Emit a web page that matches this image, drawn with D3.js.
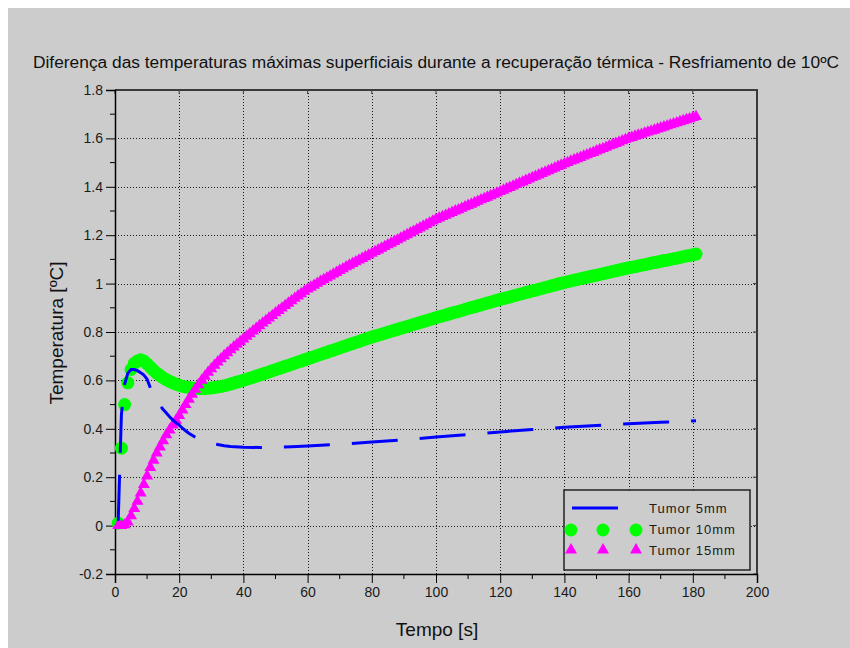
<!DOCTYPE html>
<html>
<head>
<meta charset="utf-8">
<script src="https://cdn.jsdelivr.net/npm/d3@7"></script>
<style>
  html, body { margin: 0; padding: 0; background: #ffffff; }
  svg { display: block; }
  text { font-family: "Liberation Sans", Arial, sans-serif; }
</style>
</head>
<body>
<svg id="chart" width="850" height="648"></svg>
<script>
// ---- data -------------------------------------------------------------
const chartTitle = "Diferença das temperaturas máximas superficiais durante a recuperação térmica - Resfriamento de 10ºC";
const xLabel = "Tempo [s]";
const yLabel = "Temperatura [ºC]";

const xTicks = [0, 20, 40, 60, 80, 100, 120, 140, 160, 180, 200];
const yTicks = [-0.2, 0, 0.2, 0.4, 0.6, 0.8, 1, 1.2, 1.4, 1.6, 1.8];
const yTickLabels = ["-0.2", "0", "0.2", "0.4", "0.6", "0.8", "1", "1.2", "1.4", "1.6", "1.8"];

const seriesNames = ["Tumor 5mm", "Tumor 10mm", "Tumor 15mm"];

// Tumor 5mm (line)
const time5 = [1, 2, 3, 4, 5, 6, 7, 8, 9, 10, 11, 12, 13, 14, 15, 16, 17, 18, 19, 20,
  21, 22, 23, 24, 25, 26, 28, 30, 32, 34, 36, 40, 45, 50, 55, 60, 70, 80, 90, 100,
  110, 120, 130, 140, 150, 160, 170, 181];
const temp5 = [0.02, 0.46, 0.585, 0.63, 0.645, 0.645, 0.64, 0.632, 0.622, 0.605, 0.57, 0.535,
  0.515, 0.497, 0.48, 0.465, 0.45, 0.437, 0.425, 0.415, 0.403, 0.392, 0.382, 0.373, 0.366,
  0.36, 0.35, 0.342, 0.335, 0.33, 0.327, 0.324, 0.323, 0.324, 0.326, 0.329, 0.336, 0.345,
  0.355, 0.366, 0.376, 0.387, 0.397, 0.406, 0.414, 0.421, 0.427, 0.433];

// Tumor 10mm and 15mm: one sample per second, t = 1 .. 181
const timeSec = d3.range(1, 182);
const temp10 = [
  0.01, 0.32, 0.50, 0.59, 0.645, 0.67, 0.68, 0.685, 0.68, 0.668,
  0.655, 0.642, 0.63, 0.62, 0.611, 0.603, 0.596, 0.59, 0.585, 0.58,
  0.576, 0.573, 0.571, 0.569, 0.568, 0.567, 0.567, 0.567, 0.568, 0.569,
  0.571, 0.573, 0.575, 0.578, 0.581, 0.585, 0.589, 0.593, 0.597, 0.601,
  0.605, 0.609, 0.613, 0.618, 0.622, 0.626, 0.631, 0.635, 0.640, 0.644,
  0.649, 0.653, 0.658, 0.662, 0.667, 0.671, 0.676, 0.680, 0.685, 0.689,
  0.694, 0.698, 0.703, 0.707, 0.712, 0.716, 0.721, 0.725, 0.730, 0.734,
  0.739, 0.743, 0.748, 0.752, 0.757, 0.761, 0.766, 0.770, 0.775, 0.779,
  0.783, 0.787, 0.791, 0.795, 0.799, 0.803, 0.807, 0.811, 0.815, 0.819,
  0.823, 0.827, 0.831, 0.835, 0.839, 0.843, 0.847, 0.851, 0.855, 0.859,
  0.863, 0.866, 0.870, 0.874, 0.878, 0.882, 0.885, 0.889, 0.893, 0.897,
  0.901, 0.904, 0.908, 0.912, 0.916, 0.920, 0.923, 0.927, 0.931, 0.935,
  0.938, 0.942, 0.945, 0.949, 0.952, 0.956, 0.959, 0.963, 0.966, 0.970,
  0.973, 0.977, 0.980, 0.984, 0.987, 0.991, 0.994, 0.998, 1.001, 1.005,
  1.008, 1.011, 1.014, 1.017, 1.020, 1.023, 1.026, 1.029, 1.032, 1.035,
  1.038, 1.041, 1.044, 1.047, 1.050, 1.053, 1.056, 1.059, 1.062, 1.065,
  1.068, 1.070, 1.073, 1.076, 1.078, 1.081, 1.084, 1.087, 1.089, 1.092,
  1.095, 1.097, 1.100, 1.103, 1.105, 1.108, 1.111, 1.114, 1.116, 1.119,
  1.122];
const temp15 = [
  0, 0, 0.003, 0.015, 0.04, 0.07, 0.10, 0.135, 0.17, 0.205,
  0.24, 0.27, 0.30, 0.325, 0.35, 0.375, 0.395, 0.415, 0.435, 0.455,
  0.478, 0.50, 0.522, 0.543, 0.563, 0.582, 0.60, 0.617, 0.633, 0.648,
  0.662, 0.676, 0.689, 0.702, 0.714, 0.726, 0.738, 0.749, 0.76, 0.771,
  0.782, 0.793, 0.804, 0.815, 0.826, 0.837, 0.847, 0.858, 0.868, 0.879,
  0.889, 0.899, 0.909, 0.919, 0.929, 0.939, 0.949, 0.958, 0.968, 0.977,
  0.985, 0.993, 1.001, 1.009, 1.016, 1.024, 1.031, 1.039, 1.046, 1.054,
  1.061, 1.069, 1.076, 1.083, 1.090, 1.097, 1.104, 1.111, 1.118, 1.125,
  1.132, 1.139, 1.146, 1.153, 1.160, 1.167, 1.174, 1.181, 1.188, 1.195,
  1.202, 1.209, 1.216, 1.223, 1.230, 1.237, 1.244, 1.251, 1.258, 1.265,
  1.271, 1.277, 1.282, 1.288, 1.294, 1.300, 1.305, 1.311, 1.317, 1.323,
  1.328, 1.334, 1.340, 1.346, 1.351, 1.357, 1.363, 1.369, 1.374, 1.380,
  1.386, 1.392, 1.397, 1.403, 1.409, 1.415, 1.420, 1.426, 1.432, 1.438,
  1.443, 1.449, 1.455, 1.461, 1.466, 1.472, 1.478, 1.484, 1.489, 1.495,
  1.500, 1.506, 1.511, 1.516, 1.521, 1.527, 1.532, 1.537, 1.542, 1.548,
  1.553, 1.558, 1.563, 1.569, 1.574, 1.579, 1.584, 1.590, 1.595, 1.600,
  1.604, 1.609, 1.613, 1.617, 1.622, 1.626, 1.630, 1.634, 1.639, 1.643,
  1.647, 1.652, 1.656, 1.660, 1.664, 1.669, 1.673, 1.677, 1.681, 1.686,
  1.690];

// ---- layout -----------------------------------------------------------
const W = 850, H = 648;
const plot = { left: 115, right: 757, top: 90, bottom: 574 };
const colors = { c5: "#0000ff", c10: "#00ff00", c15: "#ff00ff" };

const svg = d3.select("#chart");

// figure background (white strip on top/left, grey canvas)
svg.append("rect").attr("x", 0).attr("y", 0).attr("width", W).attr("height", H).attr("fill", "#ffffff");
svg.append("rect").attr("x", 8).attr("y", 8).attr("width", W - 8).attr("height", H - 8).attr("fill", "#cccccc");

const x = d3.scaleLinear().domain([0, 200]).range([plot.left, plot.right]);
const y = d3.scaleLinear().domain([-0.2, 1.8]).range([plot.bottom, plot.top]);

// grid
const grid = svg.append("g").attr("stroke", "#1a1a1a").attr("stroke-width", 1)
  .attr("stroke-dasharray", "1,2").attr("shape-rendering", "crispEdges");
grid.selectAll("line.gx").data(xTicks.slice(1, -1)).join("line")
  .attr("x1", d => Math.round(x(d)) + 0.5).attr("x2", d => Math.round(x(d)) + 0.5)
  .attr("y1", plot.top).attr("y2", plot.bottom);
grid.selectAll("line.gy").data(yTicks.slice(1, -1)).join("line")
  .attr("y1", d => Math.round(y(d)) + 0.5).attr("y2", d => Math.round(y(d)) + 0.5)
  .attr("x1", plot.left).attr("x2", plot.right);

// frame (top and right)
svg.append("path")
  .attr("d", `M${plot.left},${plot.top}H${plot.right}V${plot.bottom}`)
  .attr("fill", "none").attr("stroke", "#3a3a3a").attr("stroke-width", 2);

// inward ticks on the top and right edges
const mirror = svg.append("g").attr("stroke", "#3a3a3a").attr("stroke-width", 1);
mirror.selectAll("line.rt").data(yTicks).join("line")
  .attr("x1", plot.right - 4).attr("x2", plot.right)
  .attr("y1", d => y(d)).attr("y2", d => y(d));
mirror.selectAll("line.tt").data(xTicks).join("line")
  .attr("y1", plot.top).attr("y2", plot.top + 4)
  .attr("x1", d => x(d)).attr("x2", d => x(d));

// axes
const yMinor = d3.range(-0.1, 1.8, 0.2);
const xMinor = d3.range(10, 200, 20);

const yAxis = d3.axisLeft(y).tickValues(yTicks).tickSize(9).tickPadding(3)
  .tickFormat((d, i) => yTickLabels[i]);
const gy = svg.append("g").attr("transform", `translate(${plot.left},0)`).call(yAxis);
gy.selectAll(".minor").data(yMinor).join("line").attr("class", "minor")
  .attr("x1", -5).attr("x2", 0).attr("y1", d => y(d)).attr("y2", d => y(d))
  .attr("stroke", "#000");

const xAxis = d3.axisBottom(x).tickValues(xTicks).tickSize(9).tickPadding(4);
const gx = svg.append("g").attr("transform", `translate(0,${plot.bottom})`).call(xAxis);
gx.selectAll(".minor").data(xMinor).join("line").attr("class", "minor")
  .attr("y1", 0).attr("y2", 5).attr("x1", d => x(d)).attr("x2", d => x(d))
  .attr("stroke", "#000");

[gx, gy].forEach(g => {
  g.select(".domain").attr("stroke", "#000").attr("stroke-width", 1.5);
  g.selectAll(".tick line").attr("stroke", "#000");
  g.selectAll(".tick text").attr("font-size", 14).attr("fill", "#1a1a1a")
    .attr("font-family", "Liberation Sans, Arial, sans-serif");
});

// title and axis labels
svg.append("text").attr("x", 436).attr("y", 68).attr("text-anchor", "middle")
  .attr("font-size", 16).attr("fill", "#111")
  .attr("textLength", 806).attr("lengthAdjust", "spacingAndGlyphs")
  .text(chartTitle);
svg.append("text").attr("x", 437).attr("y", 636).attr("text-anchor", "middle")
  .attr("font-size", 19).attr("fill", "#111").text(xLabel);
svg.append("text").attr("transform", "translate(63,333) rotate(-90)").attr("text-anchor", "middle")
  .attr("font-size", 19).attr("fill", "#111").text(yLabel);

// series
const plotG = svg.append("g");

// Tumor 10mm - circles
plotG.append("g").selectAll("circle").data(timeSec).join("circle")
  .attr("cx", (d, i) => x(d)).attr("cy", (d, i) => y(temp10[i])).attr("r", 6.5)
  .attr("fill", colors.c10);

// Tumor 15mm - triangles
const tri = d3.symbol().type(d3.symbolTriangle).size(62);
plotG.append("g").selectAll("path").data(timeSec).join("path")
  .attr("d", tri)
  .attr("transform", (d, i) => `translate(${x(d)},${y(temp15[i])})`)
  .attr("fill", colors.c15);

// Tumor 5mm - dashed line
const line5 = d3.line().x((d, i) => x(d)).y((d, i) => y(temp5[i]));
plotG.append("path").datum(time5).attr("d", line5)
  .attr("fill", "none").attr("stroke", colors.c5).attr("stroke-width", 3)
  .attr("stroke-dasharray", "46,22");

// legend
const leg = svg.append("g");
leg.append("rect").attr("x", 564).attr("y", 490).attr("width", 186).attr("height", 80)
  .attr("fill", "#cccccc").attr("stroke", "#222").attr("stroke-width", 1.5);
leg.append("line").attr("x1", 572).attr("x2", 618).attr("y1", 508).attr("y2", 508)
  .attr("stroke", colors.c5).attr("stroke-width", 3);
const legX = [571, 603, 636];
leg.selectAll("circle").data(legX).join("circle")
  .attr("cx", d => d).attr("cy", 530).attr("r", 6.5).attr("fill", colors.c10);
leg.selectAll("path.t").data(legX).join("path").attr("class", "t")
  .attr("d", tri).attr("transform", d => `translate(${d},550)`).attr("fill", colors.c15);
leg.selectAll("text").data(seriesNames).join("text")
  .attr("x", 649).attr("y", (d, i) => 513 + i * 21)
  .attr("font-size", 13).attr("letter-spacing", 1).attr("fill", "#1a1a1a")
  .text(d => d);
</script>
</body>
</html>
